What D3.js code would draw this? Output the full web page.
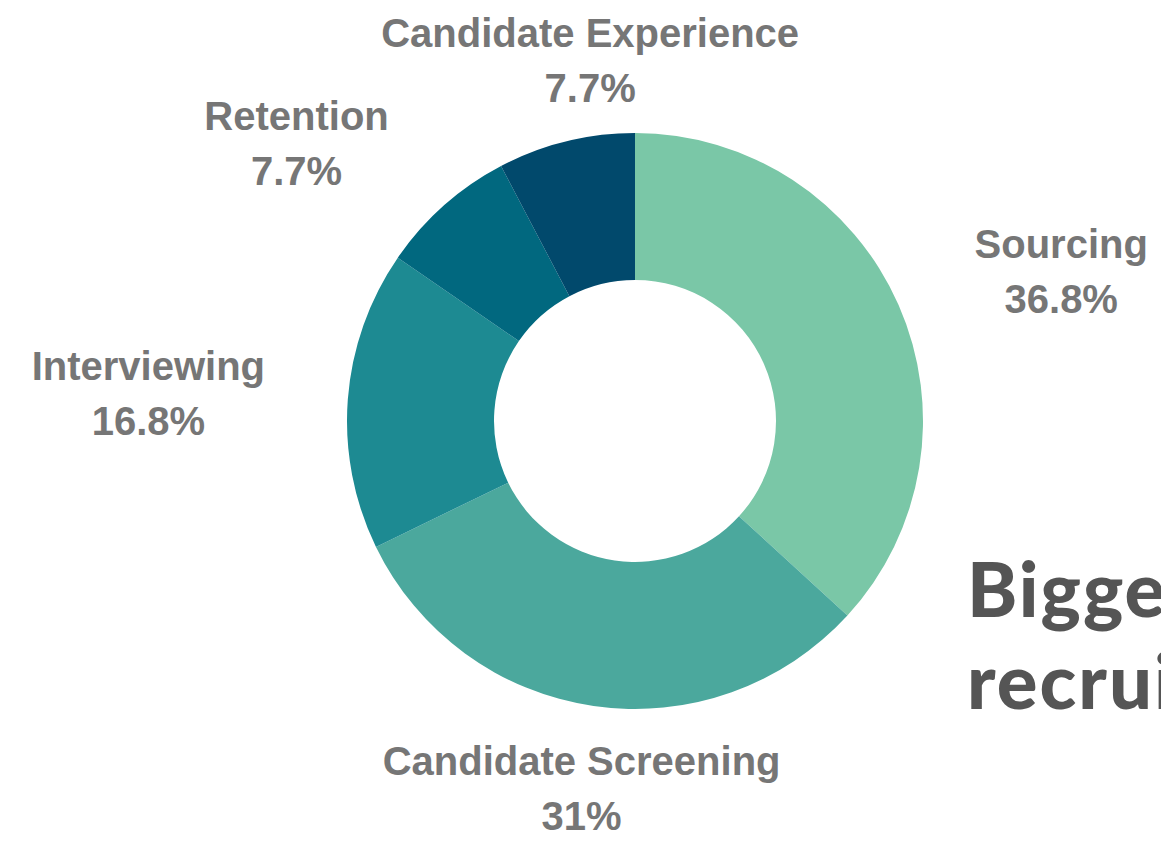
<!DOCTYPE html>
<html>
<head>
<meta charset="utf-8">
<script src="https://cdn.jsdelivr.net/npm/d3@7"></script>
<style>
  html, body { margin: 0; padding: 0; background: #ffffff; }
  svg { display: block; }
</style>
</head>
<body>
<script>
// data
const categories = ["Sourcing", "Candidate Screening", "Interviewing", "Retention", "Candidate Experience"];
const shares = [36.8, 31, 16.8, 7.7, 7.7];
const shareLabels = ["36.8%", "31%", "16.8%", "7.7%", "7.7%"];
const sliceColors = ["#7ac7a7", "#4ba89d", "#1d8a92", "#01687f", "#01496c"];
const titleLines = ["Biggest challenges in", "recruiting"];

const width = 1161, height = 841;
const cx = 635, cy = 421;
const outerR = 288, innerR = 141;
const labelR = 371;

const svg = d3.select("body")
  .append("svg")
  .attr("width", width)
  .attr("height", height);

const data = categories.map((c, i) => ({ name: c, value: shares[i], label: shareLabels[i], color: sliceColors[i] }));

const pie = d3.pie()
  .value(d => d.value)
  .sort(null);

const arc = d3.arc()
  .innerRadius(innerR)
  .outerRadius(outerR);

const arcs = pie(data);

const g = svg.append("g")
  .attr("transform", `translate(${cx}, ${cy})`);

// donut slices
g.selectAll("path")
  .data(arcs)
  .enter()
  .append("path")
  .attr("d", arc)
  .attr("fill", d => d.data.color);

// labels, placed out on the mid angle of each slice
const labelArc = d3.arc().innerRadius(labelR).outerRadius(labelR);

// small hand nudge for the top label (it sits a bit right of its slice)
const nudgeX = { "Candidate Experience": 44 };

const labels = g.selectAll("g.lbl")
  .data(arcs)
  .enter()
  .append("g")
  .attr("class", "lbl")
  .attr("transform", d => {
    const [x, y] = labelArc.centroid(d);
    return `translate(${x}, ${y})`;
  });

labels.each(function (d) {
  const mid = (d.startAngle + d.endAngle) / 2;
  const s = Math.sin(mid);
  const sel = d3.select(this);
  const lines = [d.data.name, d.data.label];
  const txt = sel.append("text")
    .attr("fill", "#767676")
    .attr("font-family", "'Liberation Sans', Arial, sans-serif")
    .attr("font-weight", "bold")
    .attr("font-size", 40)
    .attr("text-anchor", "middle");
  lines.forEach((t, i) => {
    txt.append("tspan")
      .attr("x", 0)
      .attr("y", -13.5 + i * 55)
      .text(t);
  });
  // measure block width and shift it away from the ring on the sides
  const w = txt.node().getBBox().width;
  let dx = 0;
  if (s > 0.5) dx = w / 2;
  else if (s < -0.5) dx = -w / 2;
  dx += nudgeX[d.data.name] || 0;
  txt.attr("transform", `translate(${dx}, 0)`);
});

// title, runs off the right edge like in the source picture
svg.append("text")
  .attr("x", 967)
  .attr("fill", "#555555")
  .attr("font-family", "Lato, 'Open Sans', sans-serif")
  .attr("font-weight", 900)
  .attr("font-size", 76)
  .attr("letter-spacing", 2)
  .selectAll("tspan")
  .data(titleLines)
  .enter()
  .append("tspan")
  .attr("x", 967)
  .attr("y", (d, i) => 617 + i * 92)
  .text(d => d);
</script>
</body>
</html>
